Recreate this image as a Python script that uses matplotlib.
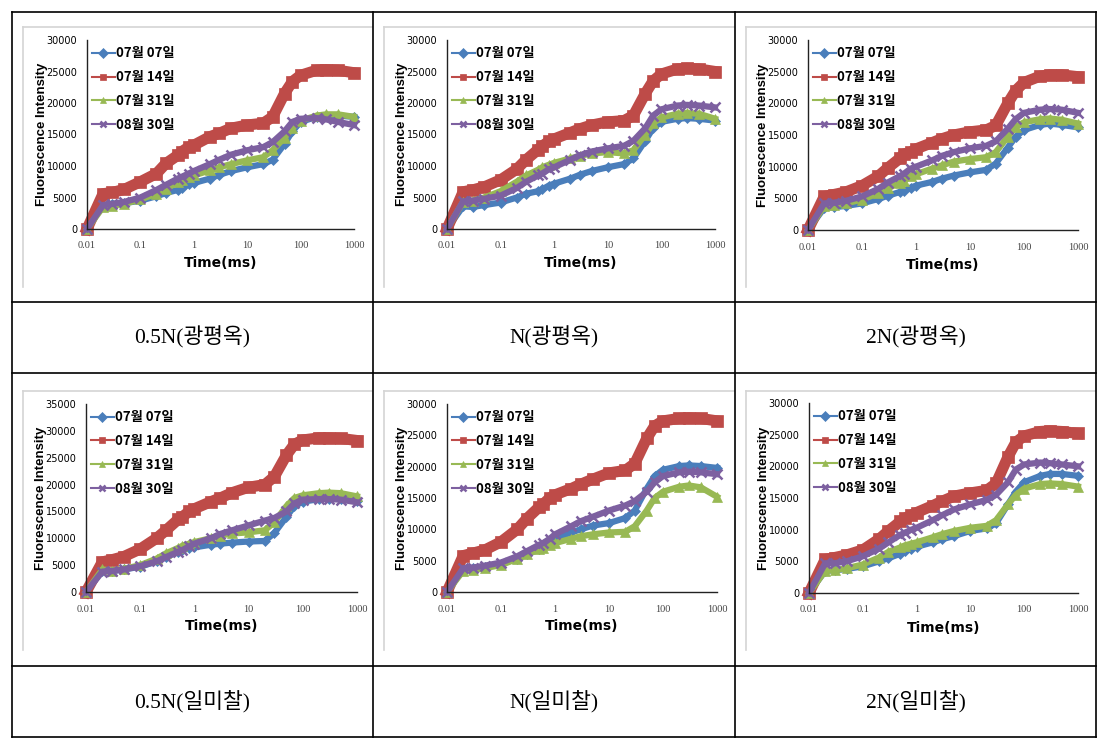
import matplotlib
matplotlib.use("Agg")
import matplotlib.pyplot as plt
from matplotlib.lines import Line2D

# ------------------------------------------------------------------
# time points (ms)
time_ms = [0.01, 0.02, 0.03, 0.05, 0.1, 0.2, 0.3, 0.5, 0.6, 0.8, 1, 2, 3, 5,
           10, 20, 30, 50, 70, 100, 200, 300, 500, 1000]

dates = ["07월 07일", "07월 14일", "07월 31일", "08월 30일"]
captions = ["0.5N(광평옥)", "N(광평옥)", "2N(광평옥)",
            "0.5N(일미찰)", "N(일미찰)", "2N(일미찰)"]

# 0.5N 광평옥
p1_0707 = [0, 3800, 3900, 4100, 4500, 5200, 5700, 6200, 6500, 7100, 7300, 8000, 8600, 9200,
           9800, 10300, 11000, 13500, 15500, 17000, 17800, 18000, 18000, 17800]
p1_0714 = [0, 5600, 5800, 6300, 7500, 8800, 10400, 11700, 12300, 13000, 13300, 14650, 15200, 16000,
           16500, 16800, 17800, 21500, 23400, 24400, 25200, 25300, 25200, 24800]
p1_0731 = [0, 3500, 3700, 4000, 4700, 5600, 6400, 7400, 7800, 8300, 8500, 9300, 9800, 10300,
           10900, 11400, 12500, 14500, 16000, 17200, 18000, 18200, 18200, 17800]
p1_0830 = [0, 3800, 4000, 4300, 5000, 6200, 7000, 8000, 8300, 8800, 9200, 10300, 11000, 11800,
           12500, 13000, 13800, 15500, 17000, 17500, 17600, 17400, 17000, 16500]

# N 광평옥
p2_0707 = [0, 3600, 3500, 3800, 4200, 5000, 5600, 6000, 6300, 6900, 7200, 8000, 8600, 9200,
           9800, 10300, 11200, 14000, 16000, 17000, 17500, 17600, 17500, 17200]
p2_0714 = [0, 5900, 6200, 6700, 7800, 9500, 11000, 12600, 13200, 13900, 14300, 15300, 15900, 16500,
           17000, 17200, 18000, 21500, 23500, 24600, 25400, 25500, 25400, 25000]
p2_0731 = [0, 4300, 4500, 5000, 6000, 7500, 8500, 9400, 9800, 10200, 10500, 11200, 11600, 12000,
           12200, 12000, 12500, 15000, 16800, 17700, 18300, 18400, 18300, 17500]
p2_0830 = [0, 4400, 4500, 4800, 5300, 6500, 7500, 8500, 8800, 9500, 9800, 11000, 11700, 12300,
           12800, 13200, 14000, 16000, 18000, 19000, 19600, 19700, 19600, 19300]

# 2N 광평옥
p3_0707 = [0, 3500, 3600, 3800, 4200, 4900, 5400, 6000, 6200, 6700, 7000, 7600, 8100, 8600,
           9100, 9500, 10500, 13000, 14700, 15800, 16600, 16800, 16600, 16200]
p3_0714 = [0, 5300, 5600, 6000, 7000, 8500, 9800, 11300, 12000, 12300, 12800, 13800, 14400, 15000,
           15500, 15800, 16500, 20000, 22000, 23300, 24300, 24500, 24500, 24200]
p3_0731 = [0, 3800, 3900, 4200, 4800, 5800, 6600, 7400, 7800, 8500, 8800, 9700, 10200, 10800,
           11200, 11500, 12300, 14700, 16300, 17000, 17500, 17600, 17400, 16800]
p3_0830 = [0, 4200, 4300, 4600, 5300, 6500, 7500, 8500, 8900, 9700, 10000, 11000, 11700, 12300,
           12900, 13300, 14000, 16000, 17500, 18500, 19000, 19100, 19000, 18500]

# 0.5N 일미찰
p4_0707 = [0, 4000, 3900, 4200, 4700, 5700, 6500, 7500, 7800, 8100, 8300, 8800, 9000, 9200,
           9400, 9500, 11000, 14000, 16000, 16800, 17300, 17400, 17300, 17000]
p4_0714 = [0, 5600, 6000, 6600, 8000, 10000, 11500, 13500, 14000, 15000, 15500, 16800, 17500, 18500,
           19500, 20000, 21500, 25500, 27500, 28300, 28700, 28700, 28600, 28200]
p4_0731 = [0, 4200, 4000, 4300, 5000, 6200, 7200, 8200, 8600, 9000, 9300, 10000, 10500, 10900,
           11100, 11500, 13000, 16000, 17500, 18000, 18400, 18500, 18400, 17800]
p4_0830 = [0, 3800, 3900, 4200, 4800, 5700, 6500, 7500, 7800, 8500, 9000, 10000, 10800, 11500,
           12400, 13300, 13800, 15000, 16500, 17200, 17300, 17300, 17200, 16700]

# N 일미찰
p5_0707 = [0, 3700, 3800, 4000, 4500, 5300, 6000, 6800, 7200, 8000, 8500, 9500, 10000, 10600,
           11000, 11800, 13000, 16500, 18500, 19500, 20100, 20200, 20100, 19800]
p5_0714 = [0, 5800, 6200, 6700, 8000, 10000, 11700, 13500, 14000, 15000, 15500, 16500, 17200, 18000,
           19000, 19400, 20500, 24500, 26500, 27300, 27700, 27800, 27700, 27300]
p5_0731 = [0, 3400, 3500, 3800, 4300, 5300, 6000, 6800, 7100, 7500, 7800, 8500, 8900, 9200,
           9500, 9600, 10500, 13000, 15000, 16000, 16800, 17000, 16700, 15200]
p5_0830 = [0, 3800, 3900, 4200, 4700, 5700, 6500, 7500, 7800, 8500, 9200, 10500, 11300, 12000,
           13000, 13800, 14500, 16000, 17500, 18500, 19100, 19200, 19100, 18800]

# 2N 일미찰
p6_0707 = [0, 3500, 3600, 3800, 4200, 5000, 5500, 6200, 6600, 7000, 7300, 8000, 8500, 9000,
           9800, 10200, 11000, 14000, 16000, 17500, 18500, 18800, 18800, 18500]
p6_0714 = [0, 5300, 5600, 6000, 6800, 8500, 9800, 11300, 11800, 12300, 12700, 13800, 14500, 15300,
           15800, 16200, 17300, 21500, 23800, 24800, 25500, 25600, 25500, 25200]
p6_0731 = [0, 3500, 3600, 3900, 4500, 5600, 6500, 7200, 7500, 7800, 8000, 8800, 9300, 9800,
           10300, 10600, 11500, 14000, 15500, 16500, 17200, 17300, 17200, 16800]
p6_0830 = [0, 4700, 4700, 5000, 5800, 7000, 8000, 9200, 9500, 10000, 10300, 11500, 12300, 13200,
           14000, 14700, 15500, 17500, 19500, 20300, 20600, 20500, 20300, 20000]

panels = [
    [p1_0707, p1_0714, p1_0731, p1_0830],
    [p2_0707, p2_0714, p2_0731, p2_0830],
    [p3_0707, p3_0714, p3_0731, p3_0830],
    [p4_0707, p4_0714, p4_0731, p4_0830],
    [p5_0707, p5_0714, p5_0731, p5_0830],
    [p6_0707, p6_0714, p6_0731, p6_0830],
]
y_max = [30000, 30000, 30000, 35000, 30000, 30000]
# ------------------------------------------------------------------

W, H = 1109, 753
colors = ["#4A7EBB", "#BE4B48", "#98B954", "#7D60A0"]
markers = ["D", "s", "^", "x"]
msizes = [5.5, 8, 6.5, 7.5]
lwidths = [4.5, 8, 4.5, 4.5]

KR_SANS = ["Liberation Sans Narrow", "Noto Sans CJK KR", "DejaVu Sans"]
KR_SERIF = ["Liberation Serif", "Noto Sans CJK KR", "DejaVu Sans"]


def fx(px):
    return px / W


def fy(py):
    return 1 - py / H


def vline(fig, x, y0, y1, **kw):
    fig.add_artist(Line2D([fx(x), fx(x)], [fy(y0), fy(y1)], transform=fig.transFigure, **kw))


def hline(fig, y, x0, x1, **kw):
    fig.add_artist(Line2D([fx(x0), fx(x1)], [fy(y), fy(y)], transform=fig.transFigure, **kw))


fig = plt.figure(figsize=(W / 100, H / 100), dpi=100)

col_edges = [12, 373, 735, 1096]
row_edges = [12, 302, 373, 666, 737]

# axes boxes in pixels: left, top, right, bottom
boxes = [
    (87, 40, 354, 229), (447, 40, 715, 229), (808, 40, 1078, 230),
    (86, 404, 357, 592), (447, 404, 717, 592), (809, 403, 1078, 593),
]

for k, series in enumerate(panels):
    l, t, r, b = boxes[k]
    ax = fig.add_axes([fx(l), fy(b), fx(r - l), (b - t) / H])
    for i, vals in enumerate(series):
        mew = 1.8 if markers[i] == "x" else 0.5
        ax.plot(time_ms, vals, color=colors[i], lw=lwidths[i], marker=markers[i],
                ms=msizes[i], mew=mew, mec=colors[i], label=dates[i], clip_on=False,
                solid_joinstyle="round")
    ax.set_xscale("log")
    ax.set_xlim(0.01, 1000)
    ax.set_ylim(0, y_max[k])
    ax.set_xticks([0.01, 0.1, 1, 10, 100, 1000])
    ax.set_xticklabels(["0.01", "0.1", "1", "10", "100", "1000"])
    ax.minorticks_off()
    ax.set_yticks(range(0, y_max[k] + 1, 5000))
    ax.tick_params(length=0)
    ax.tick_params(axis="y", pad=7, labelsize=7)
    ax.tick_params(axis="x", pad=9, labelsize=7.5, labelcolor="#444444")
    for lab in ax.get_yticklabels():
        lab.set_family("Liberation Sans Narrow")
    for lab in ax.get_xticklabels():
        lab.set_family("Liberation Serif")
    for s in ["top", "right"]:
        ax.spines[s].set_visible(False)
    for s in ["left", "bottom"]:
        ax.spines[s].set_linewidth(1.0)
        ax.spines[s].set_color("#222222")
    ax.set_xlabel("Time(ms)", fontsize=10, fontweight="bold", family="Liberation Sans Narrow")
    ax.xaxis.set_label_coords(0.5, -0.145)
    ax.set_ylabel("Fluorescence Intensity", fontsize=9.5, fontweight="bold",
                  family="Liberation Sans")
    ax.yaxis.set_label_coords(-0.145, 0.5)
    leg = ax.legend(loc="upper left", bbox_to_anchor=(0.0, 0.995), frameon=False,
                    handlelength=1.7, handletextpad=0.1, labelspacing=0.75,
                    borderaxespad=0, prop={"family": KR_SANS, "weight": "bold", "size": 9.5})
    for h in leg.legend_handles:
        h.set_linewidth(1.5)
        h.set_markersize(5)

    # grey chart-area frame (top and left edges visible)
    row = k // 3
    col = k % 3
    cx0 = col_edges[col]
    ctop = 27 if row == 0 else 391
    cbot = 287 if row == 0 else 650
    gx = cx0 + 11
    hline(fig, ctop, gx, col_edges[col + 1] - 1, color="#d4d4d4", lw=1.2)
    vline(fig, gx, ctop, cbot, color="#d4d4d4", lw=1.2)

    # caption cell
    cap_y = (row_edges[2 * row + 1] + row_edges[2 * row + 2]) / 2
    fig.text(fx((col_edges[col] + col_edges[col + 1]) / 2), fy(cap_y), captions[k],
             ha="center", va="center", fontsize=15.5, family=KR_SERIF)

# table grid
for y in row_edges:
    hline(fig, y, col_edges[0], col_edges[-1], color="black", lw=1.2)
for x in col_edges:
    vline(fig, x, row_edges[0], row_edges[-1], color="black", lw=1.2)

fig.savefig("out.png", dpi=100)
